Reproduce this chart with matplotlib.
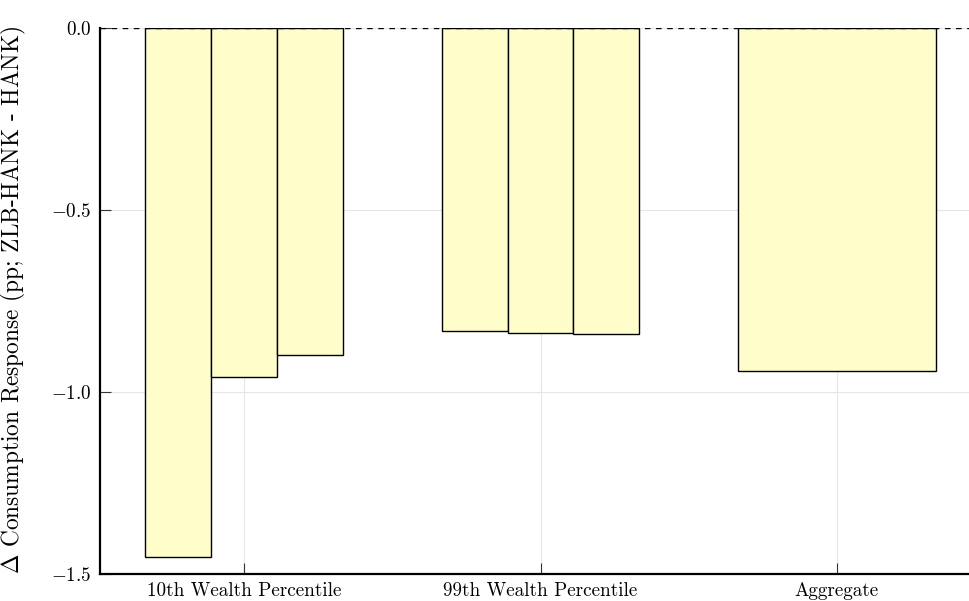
import matplotlib
matplotlib.use("Agg")
import matplotlib.pyplot as plt
import numpy as np

plt.rcParams['font.family'] = 'serif'
plt.rcParams['font.serif'] = ['cmr10']
plt.rcParams['mathtext.fontset'] = 'cm'
plt.rcParams['axes.formatter.use_mathtext'] = True

categories = ["10th Wealth Percentile", "99th Wealth Percentile", "Aggregate"]
group1 = [-1.453, -0.959, -0.898]
group2 = [-0.832, -0.838, -0.841]
aggregate = [-0.941]
yticks = [0.0, -0.5, -1.0, -1.5]

fig = plt.figure(figsize=(9.69, 6.01), dpi=100)
ax = fig.add_axes([100/969, 1 - 574/601, (969-100)/969, (574-28)/601])

fill = '#fffdca'
group_width = 2/3
sub_w = group_width / 3
for gi, vals in enumerate([group1, group2]):
    center = gi + 1
    for j, v in enumerate(vals):
        x = center - group_width/2 + sub_w*(j + 0.5)
        ax.bar(x, v, width=sub_w, color=fill, edgecolor='black', linewidth=1.0, zorder=2)
ax.bar(3, aggregate[0], width=group_width, color=fill, edgecolor='black', linewidth=1.0, zorder=2)

ax.axhline(0, color='black', linestyle=(0, (4, 4)), linewidth=1.0, zorder=3)

ax.set_xlim(1 - 144/296, 3 + 132/296)
ax.set_ylim(-1.5, 0.0)
ax.set_xticks([1, 2, 3])
ax.set_xticklabels(categories, fontsize=13.8)
ax.set_yticks(yticks)
ax.set_yticklabels([f"${t:.1f}$" for t in yticks], fontsize=13.8)
ax.grid(True, color='#e6e6e6', linewidth=0.8, zorder=0)
ax.set_axisbelow(True)
for s in ['top', 'right']:
    ax.spines[s].set_visible(False)
for s in ['left', 'bottom']:
    ax.spines[s].set_linewidth(1.6)
    ax.spines[s].set_color('black')
ax.tick_params(direction='in', length=8, width=0.8, color='#333333', pad=6)
ax.set_ylabel(r'$\Delta$ Consumption Response (pp; ZLB-HANK - HANK)', fontsize=16.8)
ax.yaxis.set_label_coords(-0.083, 0.503)

fig.savefig('out.png', dpi=100)
